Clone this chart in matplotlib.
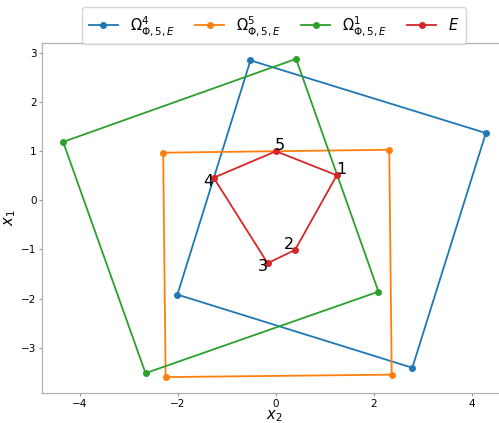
import matplotlib
matplotlib.use('Agg')
import matplotlib.pyplot as plt

# polygon vertices as (x2, x1)
omega4_x2 = [-0.52, 4.28, 2.78, -2.01]
omega4_x1 = [2.85, 1.37, -3.41, -1.92]
omega5_x2 = [-2.30, 2.31, 2.36, -2.25]
omega5_x1 = [0.97, 1.03, -3.55, -3.60]
omega1_x2 = [0.41, -4.34, -2.66, 2.09]
omega1_x1 = [2.88, 1.19, -3.52, -1.86]
E_x2 = [1.24, 0.39, -0.17, -1.27, 0.00]
E_x1 = [0.51, -1.01, -1.28, 0.46, 1.00]
E_labels = ['1', '2', '3', '4', '5']
# label offsets in points (dx, dy)
label_offsets = [(3.6, 4.1), (-4.1, 3.6), (-3.3, -2.6), (-3.6, -2.4), (2.9, 4.1)]

series = [
    (omega4_x2, omega4_x1, r'$\Omega^4_{\Phi,5,E}$', 'tab:blue'),
    (omega5_x2, omega5_x1, r'$\Omega^5_{\Phi,5,E}$', 'tab:orange'),
    (omega1_x2, omega1_x1, r'$\Omega^1_{\Phi,5,E}$', 'tab:green'),
    (E_x2, E_x1, r'$E$', 'tab:red'),
]

fig = plt.figure(figsize=(4.99, 4.23), dpi=100)
ax = fig.add_axes([42 / 499, 30 / 423, 465 / 499, 350 / 423])

for xs, ys, lab, col in series:
    ax.plot(xs + xs[:1], ys + ys[:1], '-', marker='o', color=col, lw=1.3,
            markersize=4, label=lab, markevery=list(range(len(xs))))

for x, y, t, (dx, dy) in zip(E_x2, E_x1, E_labels, label_offsets):
    ax.annotate(t, (x, y), xytext=(dx, dy), textcoords='offset points',
                fontsize=11.5, ha='center', va='center')

ax.set_xlabel(r'$x_2$', fontsize=10.5, labelpad=0)
ax.set_ylabel(r'$x_1$', fontsize=10.5, labelpad=2)
ax.tick_params(labelsize=7.5, length=2.5, color='#999999', pad=1.5)
for s in ax.spines.values():
    s.set_color('#b0b0b0')
    s.set_linewidth(0.9)

fig.legend(loc='upper center', bbox_to_anchor=(274 / 499, 1 - 0 / 423),
           ncol=4, fontsize=10.5, frameon=True, handlelength=2.0,
           handletextpad=0.8, columnspacing=1.4, borderpad=0.45)

fig.savefig('out.png', dpi=100)
